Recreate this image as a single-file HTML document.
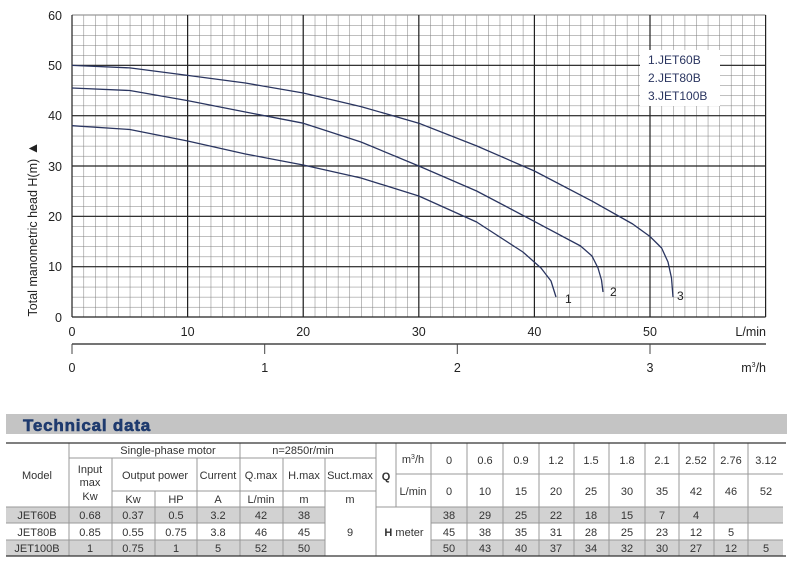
<!DOCTYPE html>
<html><head><meta charset="utf-8"><style>
html,body{margin:0;padding:0;background:#fff;}
svg{display:block;font-family:"Liberation Sans",sans-serif;}
</style></head><body>
<svg width="793" height="565" viewBox="0 0 793 565" xmlns="http://www.w3.org/2000/svg">
<defs>
<pattern id="g" x="72" y="15" width="11.56" height="10.067" patternUnits="userSpaceOnUse">
<path d="M0 0V10.067M0 0H11.56" stroke="#7a7a7a" stroke-width="1" fill="none"/>
</pattern>
</defs>
<rect x="72" y="15" width="693.6" height="302" fill="url(#g)"/>
<g stroke="#222" stroke-width="1.2">
<line x1="72" y1="15" x2="765.6" y2="15" stroke="#999"/>
<line x1="72" y1="65.3" x2="765.6" y2="65.3"/>
<line x1="72" y1="115.7" x2="765.6" y2="115.7"/>
<line x1="72" y1="166" x2="765.6" y2="166"/>
<line x1="72" y1="216.3" x2="765.6" y2="216.3"/>
<line x1="72" y1="266.7" x2="765.6" y2="266.7"/>
<line x1="72" y1="317" x2="765.6" y2="317"/>
<line x1="72" y1="15" x2="72" y2="317"/>
<line x1="187.6" y1="15" x2="187.6" y2="317"/>
<line x1="303.2" y1="15" x2="303.2" y2="317"/>
<line x1="418.8" y1="15" x2="418.8" y2="317"/>
<line x1="534.4" y1="15" x2="534.4" y2="317"/>
<line x1="650" y1="15" x2="650" y2="317"/>
<line x1="765.6" y1="15" x2="765.6" y2="317"/>
</g>
<rect x="640" y="50" width="80" height="56" fill="#fff"/>
<g fill="#2a3560" font-size="12">
<text x="648" y="64">1.JET60B</text>
<text x="648" y="82">2.JET80B</text>
<text x="648" y="100">3.JET100B</text>
</g>
<g fill="none" stroke="#2a3560" stroke-width="1.3" stroke-linejoin="round">
<polyline points="72,65.4 129.8,67.9 187.6,75.4 245.4,83 303.2,93 361,106.6 418.8,123.2 476.6,145.9 534.4,171 592.2,201.2 632.7,224 650,236.5 661.6,248 668,262 671.5,278 673,297"/>
<polyline points="72,88 129.8,90.5 187.6,100.6 245.4,112 303.2,123.2 361,142 418.8,166 476.6,191 534.4,221.4 580.6,246 592,256 598,268 601.5,280 603,292"/>
<polyline points="72,125.7 129.8,129.5 187.6,141 245.4,154 303.2,165 361,178 418.8,196 476.6,222 522.9,252 541,268 551,281 556,297"/>
</g>
<g fill="#222" font-size="12">
<text x="565" y="303">1</text>
<text x="610" y="296">2</text>
<text x="677" y="300">3</text>
</g>
<g fill="#222" font-size="12.5" text-anchor="end">
<text x="62" y="20">60</text><text x="62" y="70">50</text><text x="62" y="120">40</text>
<text x="62" y="171">30</text><text x="62" y="221">20</text><text x="62" y="271">10</text><text x="62" y="322">0</text>
</g>
<text transform="translate(37,229) rotate(-90)" font-size="12.5" fill="#222" text-anchor="middle">Total manometric head H(m) <tspan font-size="14">▲</tspan></text>
<g fill="#222" font-size="12.5" text-anchor="middle">
<text x="72" y="336">0</text><text x="187.6" y="336">10</text><text x="303.2" y="336">20</text>
<text x="418.8" y="336">30</text><text x="534.4" y="336">40</text><text x="650" y="336">50</text>
</g>
<text x="766" y="336" font-size="12.5" fill="#222" text-anchor="end">L/min</text>
<line x1="72" y1="344" x2="766" y2="344" stroke="#222" stroke-width="1.2"/>
<g stroke="#444" stroke-width="1">
<line x1="72" y1="344" x2="72" y2="354"/><line x1="264.7" y1="344" x2="264.7" y2="354"/>
<line x1="457.3" y1="344" x2="457.3" y2="354"/><line x1="650" y1="344" x2="650" y2="354"/>
</g>
<g fill="#222" font-size="12.5" text-anchor="middle">
<text x="72" y="372">0</text><text x="264.7" y="372">1</text><text x="457.3" y="372">2</text><text x="650" y="372">3</text>
</g>
<text x="766" y="372" font-size="12.5" fill="#222" text-anchor="end">m<tspan font-size="7" dy="-5">3</tspan><tspan dy="5">/h</tspan></text>

<rect x="6" y="414" width="781" height="20" fill="#c4c4c4"/>
<text x="23" y="431" font-size="17" font-weight="bold" fill="#1e3a6e" stroke="#1e3a6e" stroke-width="0.6" letter-spacing="0.8">Technical data</text>

<g fill="#d2d2d2">
<rect x="6" y="507" width="319" height="16"/>
<rect x="431" y="507" width="352" height="16"/>
<rect x="6" y="540" width="319" height="16"/>
<rect x="431" y="540" width="352" height="16"/>
</g>
<g stroke="#999" stroke-width="1" fill="none">
<line x1="69" y1="458" x2="376" y2="458"/>
<line x1="112" y1="491" x2="376" y2="491"/>
<line x1="6" y1="507" x2="325" y2="507"/>
<line x1="376" y1="507" x2="783" y2="507"/>
<line x1="6" y1="523" x2="325" y2="523"/>
<line x1="431" y1="523" x2="783" y2="523"/>
<line x1="6" y1="540" x2="325" y2="540"/>
<line x1="431" y1="540" x2="783" y2="540"/>
<line x1="396" y1="474" x2="783" y2="474"/>
<line x1="69" y1="443" x2="69" y2="556"/>
<line x1="112" y1="458" x2="112" y2="556"/>
<line x1="155" y1="491" x2="155" y2="556"/>
<line x1="197" y1="458" x2="197" y2="556"/>
<line x1="240" y1="443" x2="240" y2="556"/>
<line x1="283" y1="458" x2="283" y2="556"/>
<line x1="325" y1="458" x2="325" y2="556"/>
<line x1="376" y1="443" x2="376" y2="556"/>
<line x1="396" y1="443" x2="396" y2="507"/>
<line x1="431" y1="443" x2="431" y2="556"/>
<line x1="467" y1="443" x2="467" y2="556"/>
<line x1="503" y1="443" x2="503" y2="556"/>
<line x1="539" y1="443" x2="539" y2="556"/>
<line x1="574" y1="443" x2="574" y2="556"/>
<line x1="609" y1="443" x2="609" y2="556"/>
<line x1="645" y1="443" x2="645" y2="556"/>
<line x1="679" y1="443" x2="679" y2="556"/>
<line x1="714" y1="443" x2="714" y2="556"/>
<line x1="748" y1="443" x2="748" y2="556"/>
</g>
<line x1="6" y1="443" x2="786" y2="443" stroke="#333" stroke-width="1.3"/>
<line x1="6" y1="556" x2="786" y2="556" stroke="#333" stroke-width="1.3"/>

<g fill="#333" font-size="11" text-anchor="middle">
<text x="37" y="479">Model</text>
<text x="168" y="454">Single-phase motor</text>
<text x="303" y="454">n=2850r/min</text>
<text x="90" y="473">Input</text><text x="90" y="486">max</text><text x="90" y="500">Kw</text>
<text x="155" y="479">Output  power</text>
<text x="218" y="479">Current</text>
<text x="261" y="479">Q.max</text>
<text x="304" y="479">H.max</text>
<text x="350" y="479">Suct.max</text>
<text x="133" y="503">Kw</text><text x="176" y="503">HP</text><text x="218" y="503">A</text>
<text x="261" y="503">L/min</text><text x="304" y="503">m</text><text x="350" y="503">m</text>
<text x="386" y="480" font-weight="bold">Q</text>
<text x="413" y="463">m<tspan font-size="7" dy="-4">3</tspan><tspan dy="4">/h</tspan></text>
<text x="413" y="495">L/min</text>
<text x="350" y="536">9</text>
<text x="404" y="536"><tspan font-weight="bold">H</tspan> meter</text>

<text x="37" y="519">JET60B</text><text x="90" y="519">0.68</text><text x="133" y="519">0.37</text><text x="176" y="519">0.5</text><text x="218" y="519">3.2</text><text x="261" y="519">42</text><text x="304" y="519">38</text>
<text x="37" y="536">JET80B</text><text x="90" y="536">0.85</text><text x="133" y="536">0.55</text><text x="176" y="536">0.75</text><text x="218" y="536">3.8</text><text x="261" y="536">46</text><text x="304" y="536">45</text>
<text x="37" y="552">JET100B</text><text x="90" y="552">1</text><text x="133" y="552">0.75</text><text x="176" y="552">1</text><text x="218" y="552">5</text><text x="261" y="552">52</text><text x="304" y="552">50</text>

<text x="449" y="464">0</text><text x="485" y="464">0.6</text><text x="521" y="464">0.9</text><text x="556" y="464">1.2</text><text x="591" y="464">1.5</text><text x="627" y="464">1.8</text><text x="662" y="464">2.1</text><text x="696" y="464">2.52</text><text x="731" y="464">2.76</text><text x="766" y="464">3.12</text>
<text x="449" y="495">0</text><text x="485" y="495">10</text><text x="521" y="495">15</text><text x="556" y="495">20</text><text x="591" y="495">25</text><text x="627" y="495">30</text><text x="662" y="495">35</text><text x="696" y="495">42</text><text x="731" y="495">46</text><text x="766" y="495">52</text>
<text x="449" y="519">38</text><text x="485" y="519">29</text><text x="521" y="519">25</text><text x="556" y="519">22</text><text x="591" y="519">18</text><text x="627" y="519">15</text><text x="662" y="519">7</text><text x="696" y="519">4</text>
<text x="449" y="536">45</text><text x="485" y="536">38</text><text x="521" y="536">35</text><text x="556" y="536">31</text><text x="591" y="536">28</text><text x="627" y="536">25</text><text x="662" y="536">23</text><text x="696" y="536">12</text><text x="731" y="536">5</text>
<text x="449" y="552">50</text><text x="485" y="552">43</text><text x="521" y="552">40</text><text x="556" y="552">37</text><text x="591" y="552">34</text><text x="627" y="552">32</text><text x="662" y="552">30</text><text x="696" y="552">27</text><text x="731" y="552">12</text><text x="766" y="552">5</text>
</g>
</svg>
</body></html>
